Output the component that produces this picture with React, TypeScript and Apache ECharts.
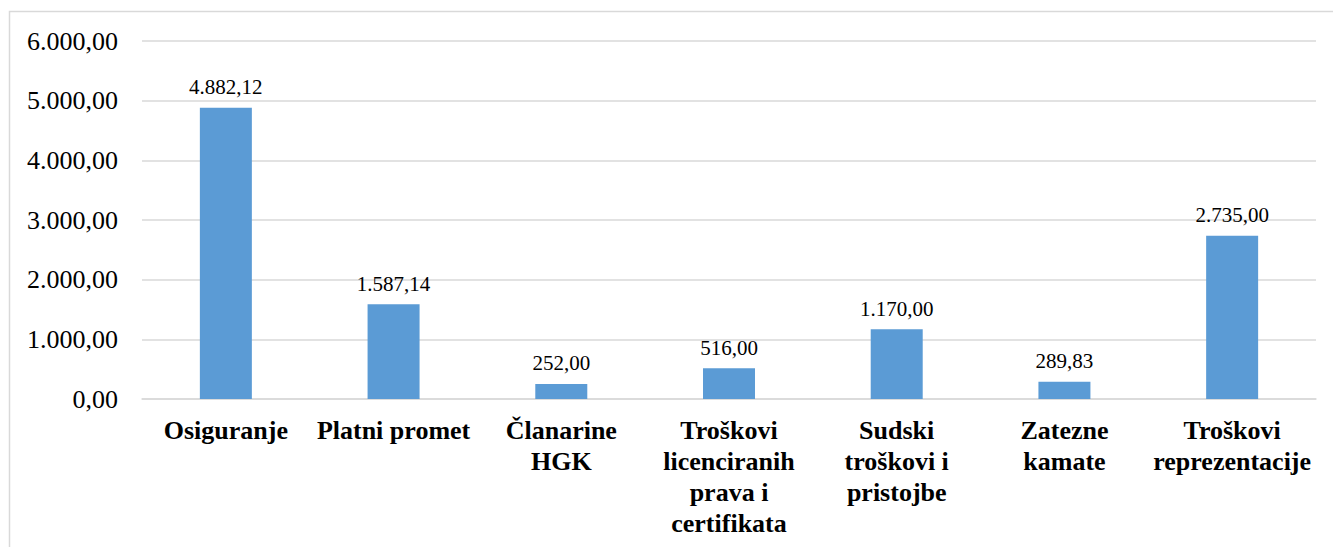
import React, { useEffect, useRef } from "react";
import * as echarts from "echarts";

const categories = [
  "Osiguranje",
  "Platni promet",
  "Članarine\nHGK",
  "Troškovi\nlicenciranih\nprava i\ncertifikata",
  "Sudski\ntroškovi i\npristojbe",
  "Zatezne\nkamate",
  "Troškovi\nreprezentacije",
];
const values = [4882.12, 1587.14, 252.0, 516.0, 1170.0, 289.83, 2735.0];
const yMin = 0;
const yMax = 6000;
const yInterval = 1000;

function fmt(v: number): string {
  const fixed = v.toFixed(2);
  const [intPart, dec] = fixed.split(".");
  const withSep = intPart.replace(/\B(?=(\d{3})+(?!\d))/g, ".");
  return withSep + "," + dec;
}

const FONT = "Liberation Serif";

export default function App() {
  const ref = useRef<HTMLDivElement>(null);
  useEffect(() => {
    if (!ref.current) return;
    const chart = echarts.init(ref.current, null, { renderer: "svg" });
    chart.setOption({
      animation: false,
      backgroundColor: "#ffffff",
      textStyle: { fontFamily: FONT },
      graphic: [
        {
          type: "rect",
          shape: { x: 9.5, y: 11.5, width: 1400, height: 700 },
          style: { fill: "none", stroke: "#D9D9D9", lineWidth: 1.5 },
          silent: true,
          z: -10,
        },
      ],
      grid: { left: 142, right: 17, top: 41, bottom: 148, containLabel: false },
      xAxis: {
        type: "category",
        data: categories,
        axisLine: { show: true, lineStyle: { color: "#D9D9D9", width: 1.5 } },
        axisTick: { show: false },
        axisLabel: {
          interval: 0,
          margin: 16,
          color: "#000",
          fontFamily: FONT,
          fontWeight: "bold",
          fontSize: 26,
          lineHeight: 31,
          verticalAlign: "top",
        },
      },
      yAxis: {
        type: "value",
        min: yMin,
        max: yMax,
        interval: yInterval,
        axisLine: { show: false },
        axisTick: { show: false },
        splitLine: { lineStyle: { color: "#D9D9D9", width: 1.5 } },
        axisLabel: {
          margin: 24,
          color: "#000",
          fontFamily: FONT,
          fontSize: 26,
          formatter: (v: number) => fmt(v),
        },
      },
      series: [
        {
          type: "bar",
          data: values,
          barWidth: 52,
          itemStyle: { color: "#5B9BD5" },
          label: {
            show: true,
            position: "top",
            distance: 10,
            color: "#000",
            fontFamily: FONT,
            fontSize: 21,
            formatter: (p: any) => fmt(p.value),
          },
        },
      ],
    });
    return () => chart.dispose();
  }, []);
  return (
    <div
      ref={ref}
      style={{ position: "absolute", left: 0, top: 0, width: 1333, height: 547 }}
    />
  );
}
